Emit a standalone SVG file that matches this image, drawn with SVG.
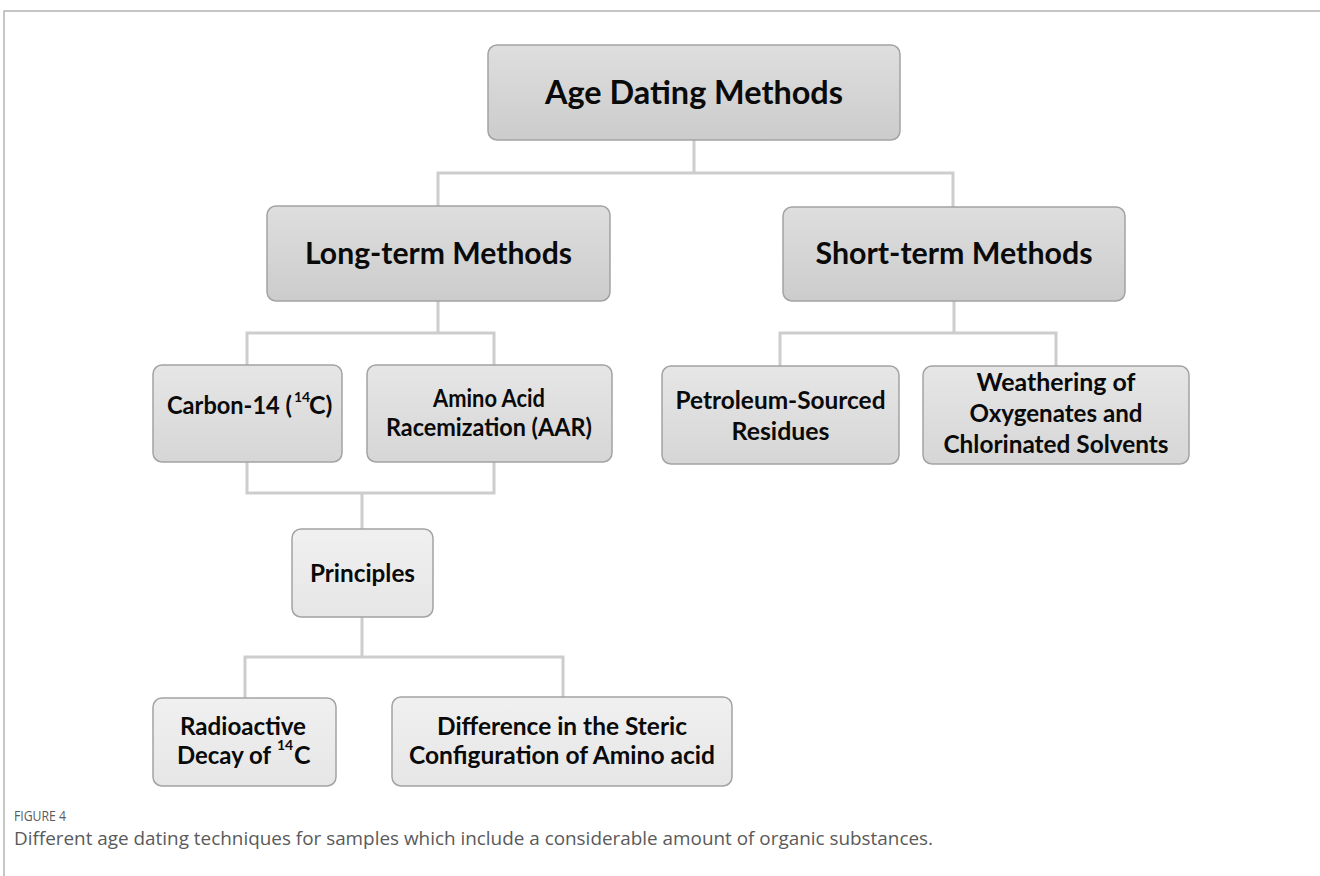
<svg xmlns="http://www.w3.org/2000/svg" width="1320" height="876" viewBox="0 0 1320 876">
<style>
.t{font-family:Lato,"Liberation Sans",sans-serif;font-weight:bold;fill:#0a0a0a;text-anchor:middle}
.ts{font-family:Lato,"Liberation Sans",sans-serif;font-weight:bold;fill:#0a0a0a;font-size:25px}
.sup{font-size:14px}
.box{stroke:#a3a3a3;stroke-width:1.5}
.d{fill:url(#gDark)}
.m{fill:url(#gMid)}
.l{fill:url(#gLight)}
.conn{fill:none;stroke:#cdcdcd;stroke-width:3}
.cap{font-family:"Open Sans","Liberation Sans",sans-serif;fill:#5a5a5a}
</style>
<defs>
<linearGradient id="gDark" x1="0" y1="0" x2="0" y2="1">
<stop offset="0" stop-color="#dedede"/><stop offset="1" stop-color="#cccccc"/>
</linearGradient>
<linearGradient id="gMid" x1="0" y1="0" x2="0" y2="1">
<stop offset="0" stop-color="#e6e6e6"/><stop offset="1" stop-color="#d6d6d6"/>
</linearGradient>
<linearGradient id="gLight" x1="0" y1="0" x2="0" y2="1">
<stop offset="0" stop-color="#f0f0f0"/><stop offset="1" stop-color="#e6e6e6"/>
</linearGradient>
</defs>
<rect width="1320" height="876" fill="#ffffff"/>
<path d="M4 876 V11 H1320" fill="none" stroke="#b4b4b4" stroke-width="1.5"/>

<g id="connectors">
<path class="conn" d="M438 206 V173 H953 V207 M694 140 V173"/>
<path class="conn" d="M247 365 V333 H494 V365 M438 301 V333"/>
<path class="conn" d="M780 366 V333 H1056 V366 M954 301 V333"/>
<path class="conn" d="M247 462 V493 H494 V462 M362 493 V529"/>
<path class="conn" d="M245 698 V657 H563 V697 M362 617 V657"/>
</g>

<g id="age-dating-methods">
<rect class="box d" x="488" y="45" width="412" height="95" rx="9"/>
<text class="t" x="694" y="104" font-size="33" textLength="298" lengthAdjust="spacingAndGlyphs">Age Dating Methods</text>
</g>

<g id="long-term-methods">
<rect class="box d" x="267" y="206" width="343" height="95" rx="9"/>
<text class="t" x="438.5" y="264" font-size="30" textLength="267" lengthAdjust="spacingAndGlyphs">Long-term Methods</text>
</g>

<g id="short-term-methods">
<rect class="box d" x="783" y="207" width="342" height="94" rx="9"/>
<text class="t" x="954" y="264" font-size="30" textLength="277" lengthAdjust="spacingAndGlyphs">Short-term Methods</text>
</g>

<g id="carbon-14">
<rect class="box m" x="153" y="365" width="189" height="97" rx="9"/>
<text class="ts"><tspan x="167" y="414" textLength="125" lengthAdjust="spacingAndGlyphs">Carbon-14 (</tspan><tspan class="sup" x="294" y="402">14</tspan><tspan x="309" y="414">C)</tspan></text>
</g>

<g id="amino-acid-racemization">
<rect class="box m" x="367" y="365" width="245" height="97" rx="9"/>
<text class="t" x="489" y="407" font-size="25" textLength="112" lengthAdjust="spacingAndGlyphs">Amino Acid</text>
<text class="t" x="489" y="436" font-size="25" textLength="206" lengthAdjust="spacingAndGlyphs">Racemization (AAR)</text>
</g>

<g id="petroleum-sourced-residues">
<rect class="box m" x="662" y="366" width="237" height="98" rx="9"/>
<text class="t" x="780.5" y="409" font-size="25" textLength="210" lengthAdjust="spacingAndGlyphs">Petroleum-Sourced</text>
<text class="t" x="780.5" y="440" font-size="25" textLength="98" lengthAdjust="spacingAndGlyphs">Residues</text>
</g>

<g id="weathering">
<rect class="box m" x="923" y="366" width="266" height="98" rx="9"/>
<text class="t" x="1056" y="391" font-size="25" textLength="159" lengthAdjust="spacingAndGlyphs">Weathering of</text>
<text class="t" x="1056" y="422" font-size="25" textLength="173" lengthAdjust="spacingAndGlyphs">Oxygenates and</text>
<text class="t" x="1056" y="453" font-size="25" textLength="225" lengthAdjust="spacingAndGlyphs">Chlorinated Solvents</text>
</g>

<g id="principles">
<rect class="box l" x="292" y="529" width="141" height="88" rx="9"/>
<text class="t" x="362.5" y="582" font-size="25" textLength="105" lengthAdjust="spacingAndGlyphs">Principles</text>
</g>

<g id="radioactive-decay">
<rect class="box l" x="153" y="698" width="183" height="88" rx="9"/>
<text class="t" x="243" y="735" font-size="25" textLength="126" lengthAdjust="spacingAndGlyphs">Radioactive</text>
<text class="ts"><tspan x="177" y="764" textLength="94" lengthAdjust="spacingAndGlyphs">Decay of</tspan><tspan class="sup" x="277" y="750">14</tspan><tspan x="294" y="764">C</tspan></text>
</g>

<g id="steric-configuration">
<rect class="box l" x="392" y="697" width="340" height="89" rx="9"/>
<text class="t" x="562" y="735" font-size="25" textLength="250" lengthAdjust="spacingAndGlyphs">Difference in the Steric</text>
<text class="t" x="562" y="764" font-size="25" textLength="306" lengthAdjust="spacingAndGlyphs">Configuration of Amino acid</text>
</g>

<g id="caption">
<text class="cap" x="14" y="821" font-size="14" textLength="52" lengthAdjust="spacingAndGlyphs">FIGURE 4</text>
<text class="cap" x="14" y="845" font-size="18" fill="#666666" textLength="919" lengthAdjust="spacingAndGlyphs">Different age dating techniques for samples which include a considerable amount of organic substances.</text>
</g>
</svg>
